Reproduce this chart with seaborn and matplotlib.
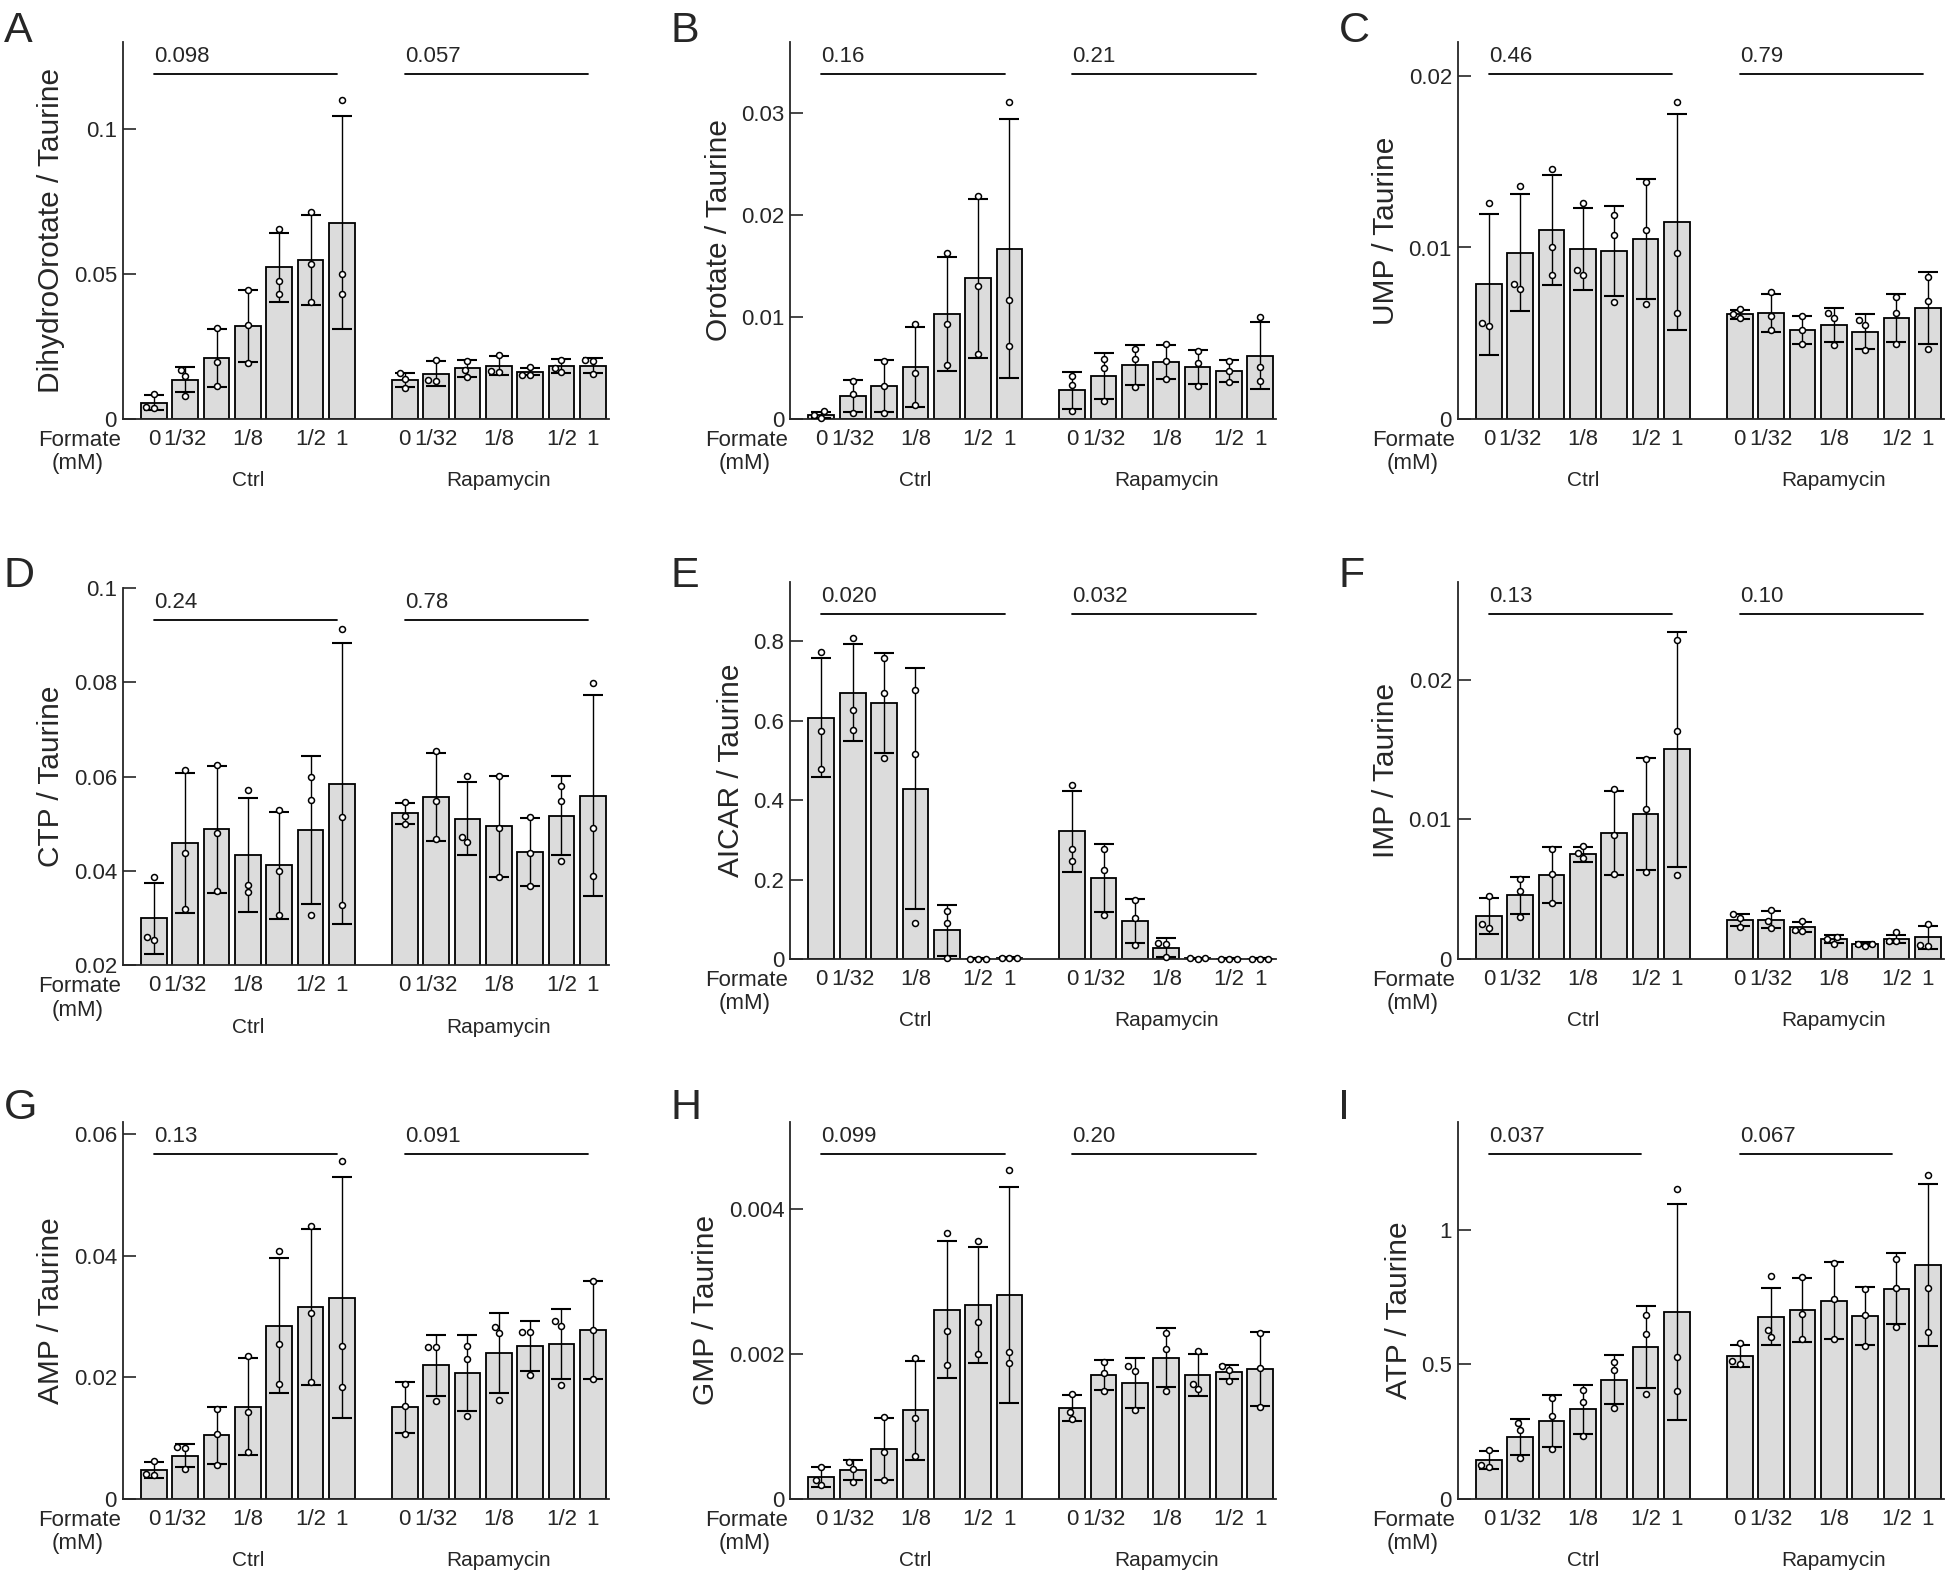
import numpy as np
import pandas as pd
import seaborn as sns
import matplotlib.pyplot as plt
import matplotlib.transforms as mtransforms
from matplotlib.ticker import FixedLocator, FuncFormatter

# formate doses (mM); only some of them get a tick label
dose_labels = ["0", "1/32", "", "1/8", "", "1/2", "1"]
groups = ["Ctrl", "Rapamycin"]

# ---- values: 7 Ctrl bars then 7 Rapamycin bars ----
dho_mean = [0.0056, 0.0135, 0.0209, 0.0320, 0.0522, 0.0549, 0.0677,
            0.0134, 0.0156, 0.0174, 0.0184, 0.0163, 0.0183, 0.0184]
dho_sd = [0.0026, 0.0043, 0.0100, 0.0125, 0.0118, 0.0155, 0.0366,
          0.0023, 0.0043, 0.0030, 0.0032, 0.0013, 0.0023, 0.0025]
dho_pts = [[0.0085, 0.0040, 0.0039], [0.0169, 0.0148, 0.0080], [0.0315, 0.0198, 0.0115],
           [0.0444, 0.0324, 0.0192], [0.0656, 0.0477, 0.0432], [0.0714, 0.0533, 0.0402],
           [0.1098, 0.0499, 0.0432], [0.0157, 0.0137, 0.0108], [0.0203, 0.0134, 0.0131],
           [0.0201, 0.0169, 0.0144], [0.0221, 0.0167, 0.0163], [0.0180, 0.0152, 0.0152],
           [0.0203, 0.0177, 0.0161], [0.0203, 0.0200, 0.0155]]

oro_mean = [0.0004, 0.00225, 0.00324, 0.0051, 0.0103, 0.0138, 0.0167,
            0.0028, 0.00425, 0.0053, 0.0056, 0.0051, 0.0047, 0.0062]
oro_sd = [0.0003, 0.00155, 0.00257, 0.00395, 0.0056, 0.0078, 0.0127,
          0.0018, 0.00224, 0.0020, 0.0017, 0.0017, 0.0011, 0.0033]
oro_pts = [[0.0008, 0.0004, 0.0001], [0.0037, 0.0025, 0.0006], [0.0057, 0.0032, 0.0006],
           [0.0093, 0.0045, 0.0014], [0.0163, 0.0093, 0.0053], [0.0219, 0.0130, 0.0064],
           [0.0311, 0.0117, 0.0072], [0.0042, 0.0033, 0.0008], [0.0059, 0.0050, 0.0018],
           [0.0069, 0.0059, 0.0031], [0.0074, 0.0057, 0.0039], [0.0067, 0.0055, 0.0032],
           [0.0057, 0.0047, 0.0036], [0.0100, 0.0051, 0.0037]]

ump_mean = [0.00785, 0.0097, 0.0110, 0.0099, 0.0098, 0.0105, 0.0115,
            0.0061, 0.0062, 0.0052, 0.0055, 0.0051, 0.0059, 0.0065]
ump_sd = [0.0041, 0.0034, 0.0032, 0.0024, 0.0026, 0.0035, 0.0063,
          0.00027, 0.0011, 0.0008, 0.0010, 0.0010, 0.0014, 0.0021]
ump_pts = [[0.0126, 0.0056, 0.0054], [0.0136, 0.0079, 0.0076], [0.0146, 0.0100, 0.0084],
           [0.0126, 0.0087, 0.0084], [0.0119, 0.0107, 0.0068], [0.0138, 0.0110, 0.0067],
           [0.0185, 0.0097, 0.0062], [0.0064, 0.0061, 0.0059], [0.0074, 0.0060, 0.0052],
           [0.0060, 0.0052, 0.0044], [0.0062, 0.0059, 0.0043], [0.0058, 0.0055, 0.0040],
           [0.0071, 0.0062, 0.0044], [0.0083, 0.0069, 0.0041]]

ctp_mean = [0.0300, 0.0459, 0.0488, 0.0433, 0.0412, 0.0486, 0.0585,
            0.0522, 0.0557, 0.0511, 0.0495, 0.0441, 0.0517, 0.0560]
ctp_sd = [0.0075, 0.0148, 0.0134, 0.0121, 0.0113, 0.0157, 0.0298,
          0.0023, 0.0093, 0.0077, 0.0107, 0.0072, 0.0084, 0.0213]
ctp_pts = [[0.0387, 0.0259, 0.0253], [0.0615, 0.0438, 0.0320], [0.0625, 0.0481, 0.0357],
           [0.0572, 0.0371, 0.0355], [0.0530, 0.0401, 0.0306], [0.0599, 0.0551, 0.0306],
           [0.0913, 0.0515, 0.0328], [0.0546, 0.0517, 0.0500], [0.0654, 0.0548, 0.0467],
           [0.0601, 0.0472, 0.0461], [0.0601, 0.0491, 0.0388], [0.0515, 0.0438, 0.0368],
           [0.0580, 0.0548, 0.0421], [0.0798, 0.0491, 0.0389]]

aicar_mean = [0.608, 0.671, 0.644, 0.429, 0.072, 0.001, 0.003,
              0.322, 0.204, 0.096, 0.028, 0.002, 0.001, 0.001]
aicar_sd = [0.150, 0.121, 0.126, 0.303, 0.064, 0.0005, 0.001,
            0.102, 0.0845, 0.055, 0.024, 0.001, 0.0005, 0.0005]
aicar_pts = [[0.774, 0.574, 0.479], [0.808, 0.628, 0.577], [0.757, 0.669, 0.506],
             [0.678, 0.516, 0.091], [0.122, 0.091, 0.002], [0.001, 0.001, 0.001],
             [0.003, 0.003, 0.002], [0.438, 0.278, 0.248], [0.277, 0.225, 0.110],
             [0.148, 0.104, 0.036], [0.040, 0.038, 0.005], [0.002, 0.001, 0.002],
             [0.001, 0.001, 0.001], [0.001, 0.001, 0.001]]

imp_mean = [0.0031, 0.00457, 0.0060, 0.0075, 0.0090, 0.0104, 0.0150,
            0.0028, 0.0028, 0.00229, 0.00143, 0.00107, 0.00143, 0.00155]
imp_sd = [0.0013, 0.00132, 0.0020, 0.00055, 0.0030, 0.0040, 0.0084,
          0.00045, 0.0006, 0.00036, 0.00026, 0.00014, 0.0003, 0.00083]
imp_pts = [[0.0045, 0.0025, 0.0022], [0.0057, 0.0049, 0.0030], [0.0079, 0.0061, 0.0040],
           [0.0081, 0.0076, 0.0072], [0.0122, 0.0089, 0.0061], [0.0143, 0.0107, 0.0062],
           [0.0228, 0.0163, 0.0060], [0.0032, 0.0029, 0.0023], [0.0035, 0.0027, 0.0022],
           [0.0027, 0.0021, 0.0020], [0.0016, 0.0014, 0.0011], [0.0011, 0.0011, 0.0009],
           [0.0019, 0.0013, 0.0013], [0.0025, 0.0010, 0.0009]]

amp_mean = [0.0047, 0.0071, 0.0105, 0.0152, 0.0285, 0.0315, 0.0331,
            0.0151, 0.0220, 0.0207, 0.0240, 0.0252, 0.0255, 0.0278]
amp_sd = [0.0013, 0.0019, 0.0047, 0.0079, 0.0111, 0.0128, 0.0198,
          0.0042, 0.0050, 0.0062, 0.0065, 0.0041, 0.0058, 0.0080]
amp_pts = [[0.0062, 0.0041, 0.0039], [0.0085, 0.0083, 0.0049], [0.0148, 0.0107, 0.0056],
           [0.0235, 0.0143, 0.0078], [0.0407, 0.0255, 0.0189], [0.0448, 0.0306, 0.0192],
           [0.0555, 0.0252, 0.0184], [0.0189, 0.0153, 0.0107], [0.0250, 0.0250, 0.0161],
           [0.0251, 0.0230, 0.0136], [0.0283, 0.0272, 0.0163], [0.0275, 0.0275, 0.0204],
           [0.0292, 0.0284, 0.0187], [0.0358, 0.0277, 0.0198]]

gmp_mean = [0.00030, 0.00040, 0.00069, 0.00122, 0.00261, 0.00267, 0.00281,
            0.00125, 0.00171, 0.00160, 0.00195, 0.00171, 0.00175, 0.00179]
gmp_sd = [0.00014, 0.00014, 0.00043, 0.00068, 0.00094, 0.00080, 0.00149,
          0.00018, 0.00021, 0.00034, 0.00041, 0.00029, 0.00009, 0.00051]
gmp_pts = [[0.00044, 0.00026, 0.00019], [0.00051, 0.00042, 0.00024], [0.00113, 0.00065, 0.00026],
           [0.00194, 0.00112, 0.00059], [0.00366, 0.00232, 0.00184], [0.00356, 0.00244, 0.00200],
           [0.00453, 0.00203, 0.00188], [0.00145, 0.00120, 0.00110], [0.00189, 0.00174, 0.00149],
           [0.00183, 0.00177, 0.00122], [0.00229, 0.00207, 0.00149], [0.00204, 0.00159, 0.00151],
           [0.00183, 0.00178, 0.00163], [0.00229, 0.00180, 0.00127]]

atp_mean = [0.144, 0.230, 0.290, 0.333, 0.443, 0.564, 0.694,
            0.531, 0.676, 0.700, 0.736, 0.678, 0.781, 0.868]
atp_sd = [0.033, 0.068, 0.096, 0.090, 0.091, 0.153, 0.402,
          0.041, 0.106, 0.119, 0.142, 0.107, 0.130, 0.300]
atp_pts = [[0.183, 0.127, 0.119], [0.282, 0.255, 0.153], [0.375, 0.308, 0.184],
           [0.403, 0.360, 0.233], [0.509, 0.480, 0.339], [0.684, 0.614, 0.391],
           [1.152, 0.527, 0.401], [0.579, 0.511, 0.502], [0.827, 0.626, 0.601],
           [0.824, 0.688, 0.593], [0.874, 0.743, 0.594], [0.781, 0.682, 0.568],
           [0.889, 0.782, 0.639], [1.202, 0.782, 0.620]]

letters = ["A", "B", "C", "D", "E", "F", "G", "H", "I"]
ylabels = ["DihydroOrotate / Taurine", "Orotate / Taurine", "UMP / Taurine",
           "CTP / Taurine", "AICAR / Taurine", "IMP / Taurine",
           "AMP / Taurine", "GMP / Taurine", "ATP / Taurine"]
pvals = [("0.098", "0.057"), ("0.16", "0.21"), ("0.46", "0.79"),
         ("0.24", "0.78"), ("0.020", "0.032"), ("0.13", "0.10"),
         ("0.13", "0.091"), ("0.099", "0.20"), ("0.037", "0.067")]
# index of the last dose covered by the trend test line in each group
pline_end = [6, 6, 6, 6, 6, 6, 6, 6, 5]
yticks = [[0, 0.05, 0.1], [0, 0.01, 0.02, 0.03], [0, 0.01, 0.02],
          [0.02, 0.04, 0.06, 0.08, 0.1], [0, 0.2, 0.4, 0.6, 0.8], [0, 0.01, 0.02],
          [0, 0.02, 0.04, 0.06], [0, 0.002, 0.004], [0, 0.5, 1]]
ylims = [(0, 0.13), (0, 0.037), (0, 0.022), (0.02, 0.1), (0, 0.95), (0, 0.027),
         (0, 0.062), (0, 0.0052), (0, 1.4)]

means = [dho_mean, oro_mean, ump_mean, ctp_mean, aicar_mean, imp_mean, amp_mean, gmp_mean, atp_mean]
sds = [dho_sd, oro_sd, ump_sd, ctp_sd, aicar_sd, imp_sd, amp_sd, gmp_sd, atp_sd]
points = [dho_pts, oro_pts, ump_pts, ctp_pts, aicar_pts, imp_pts, amp_pts, gmp_pts, atp_pts]

sns.set_style("ticks")
plt.rcParams["font.family"] = ["Liberation Sans", "DejaVu Sans"]

W, H = 1946, 1573
fig = plt.figure(figsize=(W / 100, H / 100), dpi=100)

# layout in pixels
col_x = [122.5, 790, 1457.5]
row_top = [41.7, 581.7, 1121.7]
ax_w, ax_h = 486, 377.3
letter_base = [42, 587, 1119]

n = len(dose_labels)
pos = np.r_[np.arange(n), np.arange(n) + n + 1]
bar_fill = "#dcdcdc"

for i in range(9):
    r, c = divmod(i, 3)
    top = row_top[r] + (6.3 if i == 3 else 0)
    ax = fig.add_axes([col_x[c] / W, 1 - (top + ax_h) / H, ax_w / W, ax_h / H])

    sns.barplot(x=pos, y=means[i], native_scale=True, orient="x", width=0.82,
                color=bar_fill, saturation=1, edgecolor="black", linewidth=1.3,
                errorbar=None, ax=ax, zorder=2)
    ax.errorbar(pos, means[i], yerr=sds[i], fmt="none", ecolor="black",
                elinewidth=1.0, capsize=7, capthick=1.5, zorder=3)
    df = pd.DataFrame({"pos": np.repeat(pos, 3), "val": np.ravel(points[i])})
    sns.swarmplot(data=df, x="pos", y="val", native_scale=True, orient="x",
                  color="white", edgecolor="black", linewidth=1.1, size=4.3,
                  ax=ax, zorder=4)
    for coll in ax.collections:
        coll.set_clip_on(False)

    ax.set_xlim(-1, pos[-1] + 0.5)
    ax.set_ylim(*ylims[i])
    ax.yaxis.set_major_locator(FixedLocator(yticks[i]))
    ax.yaxis.set_major_formatter(FuncFormatter(lambda v, p: f"{round(v, 6):g}"))
    ax.set_xticks(pos)
    ax.set_xticklabels(dose_labels * 2)
    ax.tick_params(axis="y", direction="in", length=9, width=1.2, pad=4, labelsize=16)
    ax.tick_params(axis="x", length=0, pad=7, labelsize=16)
    sns.despine(ax=ax)
    for s in ["left", "bottom"]:
        ax.spines[s].set_linewidth(1.3)
    ax.set_xlabel("")
    ax.set_ylabel(ylabels[i], fontsize=21.5, labelpad=6)

    # trend-test lines with p values
    trans = mtransforms.blended_transform_factory(ax.transData, ax.transAxes)
    for g in range(2):
        x0 = pos[g * n]
        x1 = pos[g * n + pline_end[i]] - 0.15
        ax.plot([x0, x1], [0.915, 0.915], color="black", lw=1.3,
                transform=trans, clip_on=False)
        ax.text(x0, 0.962, pvals[i][g], transform=trans, ha="left", va="center",
                fontsize=16)
        # group names under the dose labels
        grp_t = mtransforms.offset_copy(trans, fig=fig, x=0, y=-62, units="dots")
        ax.text(pos[g * n:(g + 1) * n].mean(), 0, groups[g], transform=grp_t,
                ha="center", va="center", fontsize=15)

    t1 = mtransforms.offset_copy(ax.transAxes, fig=fig, x=-2, y=-21, units="dots")
    ax.text(0, 0, "Formate", transform=t1, ha="right", va="center", fontsize=16)
    t2 = mtransforms.offset_copy(ax.transAxes, fig=fig, x=-45, y=-45, units="dots")
    ax.text(0, 0, "(mM)", transform=t2, ha="center", va="center", fontsize=16)

    fig.text((col_x[c] - 119) / W, 1 - letter_base[r] / H, letters[i],
             fontsize=31, ha="left", va="baseline")

fig.savefig("out.png", dpi=100)
